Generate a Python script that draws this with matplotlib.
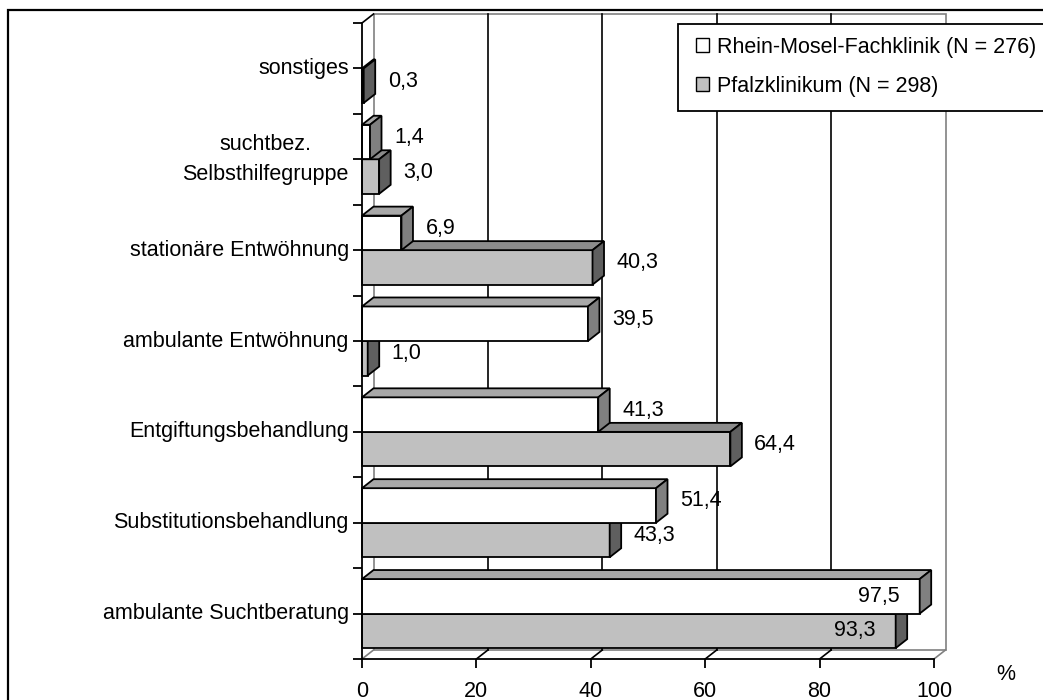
import matplotlib.pyplot as plt
from matplotlib.patches import Polygon, Rectangle, Patch
import numpy as np

plt.rcParams['font.family'] = ['Liberation Sans', 'DejaVu Sans']

categories = ["ambulante Suchtberatung", "Substitutionsbehandlung",
              "Entgiftungsbehandlung", "ambulante Entwöhnung",
              "stationäre Entwöhnung", "suchtbez.\nSelbsthilfegruppe",
              "sonstiges"]
rmf = [97.5, 51.4, 41.3, 39.5, 6.9, 1.4, 0.0]
pfalz = [93.3, 43.3, 64.4, 1.0, 40.3, 3.0, 0.3]
series_names = ["Rhein-Mosel-Fachklinik (N = 276)", "Pfalzklinikum (N = 298)"]
xticks = [0, 20, 40, 60, 80, 100]

# face colours: front, top, side
white_cols = ("#ffffff", "#a8a8a8", "#808080")
gray_cols = ("#c0c0c0", "#8c8c8c", "#5f5f5f")

W, H = 1043, 700
fig = plt.figure(figsize=(W / 100, H / 100), dpi=100)
ax = fig.add_axes([362 / W, 1 - 659 / H, (934 - 362) / W, (659 - 23) / H])
ax.set_xlim(0, 100)
ax.set_ylim(0, len(categories))

# depth of the fake 3d box in data units
px_x = 100 / (934 - 362)
px_y = len(categories) / (659 - 23)
ddx = 11.5 * px_x
ddy = 9 * px_y
nc = len(categories)

# back wall
wall = Rectangle((ddx, ddy), 100, nc, facecolor="white", edgecolor="#808080",
                 lw=1.2, zorder=0, clip_on=False)
ax.add_patch(wall)
for x in xticks[1:-1]:
    ax.plot([x + ddx, x + ddx], [ddy, nc + ddy], color="black", lw=1.2,
            zorder=1, clip_on=False)
# floor lines
for x in xticks:
    c = "#808080" if x in (0, 100) else "black"
    ax.plot([x, x + ddx], [0, ddy], color=c, lw=1.2, zorder=1, clip_on=False)
ax.plot([0, ddx], [nc, nc + ddy], color="black", lw=1.2, zorder=1, clip_on=False)

bar_h = 0.38


def bar3d(y0, val, cols):
    if val <= 0:
        return
    y1 = y0 + bar_h
    kw = dict(edgecolor="black", lw=1.3, joinstyle="miter", clip_on=False, zorder=3)
    ax.add_patch(Polygon([(0, y0), (val, y0), (val, y1), (0, y1)],
                         facecolor=cols[0], **kw))
    ax.add_patch(Polygon([(0, y1), (val, y1), (val + ddx, y1 + ddy), (ddx, y1 + ddy)],
                         facecolor=cols[1], **kw))
    ax.add_patch(Polygon([(val, y0), (val + ddx, y0 + ddy), (val + ddx, y1 + ddy),
                          (val, y1)], facecolor=cols[2], **kw))


def value_label(y0, val):
    if val <= 0:
        return
    txt = f"{val:.1f}".replace(".", ",")
    yc = y0 + bar_h / 2
    if val > 90:
        ax.text(val - 20 * px_x, yc, txt, ha="right", va="center",
                fontsize=15.5, zorder=5)
    else:
        ax.text(val + 24 * px_x, yc + 4.5 * px_y, txt, ha="left", va="center",
                fontsize=15.5, zorder=5, clip_on=False)


for i in range(nc):
    c = i + 0.5
    bar3d(c - bar_h, pfalz[i], gray_cols)
    bar3d(c, rmf[i], white_cols)
for i in range(nc):
    c = i + 0.5
    value_label(c - bar_h, pfalz[i])
    value_label(c, rmf[i])

# axes
for s in ("top", "right"):
    ax.spines[s].set_visible(False)
for s in ("left", "bottom"):
    ax.spines[s].set_linewidth(1.3)
    ax.spines[s].set_zorder(4)
ax.set_xticks(xticks)
ax.set_xticklabels([str(x) for x in xticks], fontsize=15.5)
ax.set_yticks(np.arange(nc) + 0.5)
ax.set_yticklabels(categories, fontsize=15.5, multialignment="center",
                   linespacing=1.55, va="center")
ax.set_yticks(np.arange(nc + 1), minor=True)
ax.tick_params(axis="x", direction="out", length=6.5, width=1.3, pad=9)
ax.tick_params(axis="y", which="both", direction="out", length=6.5, width=1.3, pad=3)
ax.set_facecolor("none")

fig.text(1006 / W, 1 - 675 / H, "%", ha="center", va="center", fontsize=15.5)

# legend box runs off the right edge of the figure
fig.add_artist(Rectangle((678 / W, 1 - 111 / H), (1080 - 678) / W, 87 / H,
                         transform=fig.transFigure, facecolor="white",
                         edgecolor="black", lw=1.3, zorder=5, clip_on=False))
handles = [Patch(facecolor=white_cols[0], edgecolor="black", lw=1.0),
           Patch(facecolor=gray_cols[0], edgecolor="black", lw=1.0)]
leg = fig.legend(handles, series_names, loc="upper left",
                 bbox_to_anchor=(684 / W, 1 - 25 / H), borderaxespad=0,
                 fontsize=15.5, frameon=False, handlelength=0.62,
                 handleheight=0.62, handletextpad=0.38, labelspacing=0.84,
                 borderpad=0.55)
leg.set_zorder(6)

# outer frame of the chart area
fig.add_artist(Rectangle((8 / W, -0.1), 1.2, 1.1 - 10 / H, transform=fig.transFigure,
                         fill=False, edgecolor="black", lw=1.6, clip_on=False))

fig.savefig("out.png", dpi=100)
